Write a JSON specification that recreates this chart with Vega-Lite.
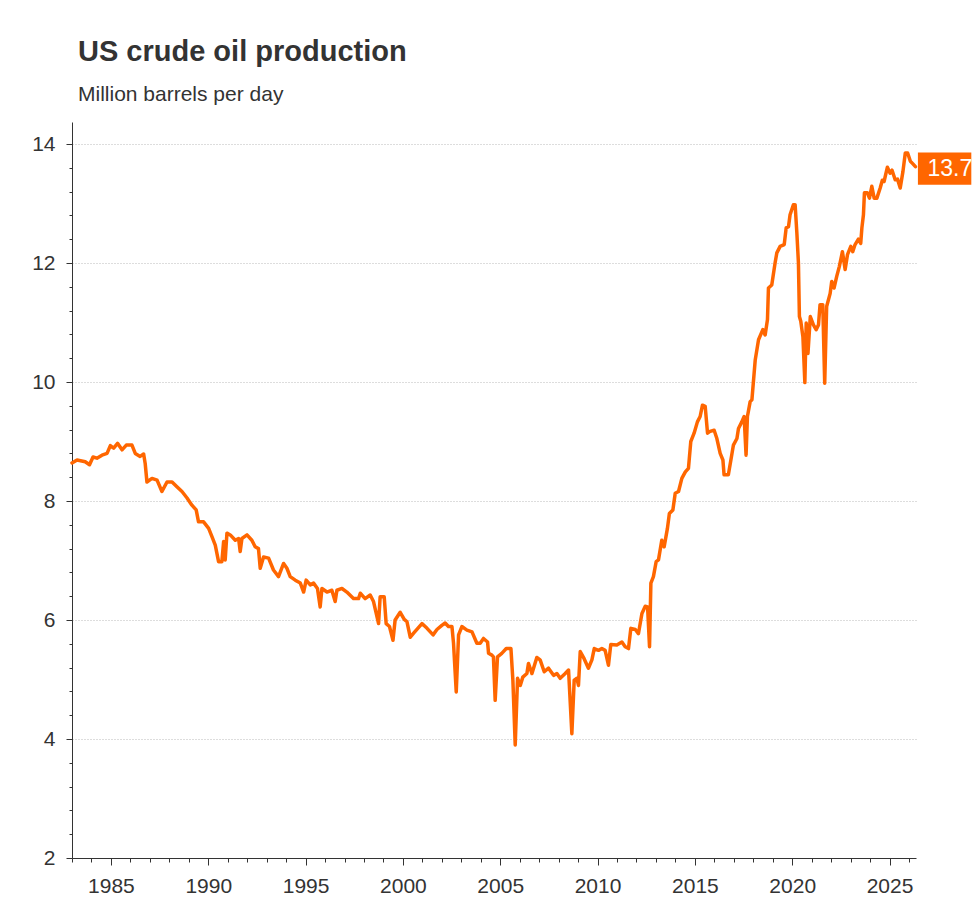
{
  "$schema": "https://vega.github.io/schema/vega-lite/v6.json",
  "width": 844,
  "height": 736,
  "autosize": "none",
  "padding": {"left": 72, "top": 122, "right": 62, "bottom": 50},
  "background": "white",
  "config": {"font": "Liberation Sans", "view": {"stroke": null}},
  "title": {
    "text": "US crude oil production",
    "subtitle": "Million barrels per day",
    "anchor": "start",
    "frame": "group",
    "dx": 6,
    "offset": 17,
    "font": "Liberation Sans",
    "fontSize": 29,
    "fontWeight": "bold",
    "color": "#333333",
    "subtitleFont": "Liberation Sans",
    "subtitleFontSize": 21,
    "subtitleColor": "#333333",
    "subtitlePadding": 17
  },
  "data": {"values": [
    {"year": 1983.00, "value": 8.64}, {"year": 1983.26, "value": 8.69}, {"year": 1983.68, "value": 8.66}, {"year": 1983.90, "value": 8.61},
    {"year": 1984.08, "value": 8.74}, {"year": 1984.28, "value": 8.72}, {"year": 1984.54, "value": 8.77}, {"year": 1984.80, "value": 8.80},
    {"year": 1984.97, "value": 8.93}, {"year": 1985.14, "value": 8.89}, {"year": 1985.34, "value": 8.97}, {"year": 1985.57, "value": 8.86},
    {"year": 1985.79, "value": 8.94}, {"year": 1986.08, "value": 8.94}, {"year": 1986.25, "value": 8.80}, {"year": 1986.50, "value": 8.75},
    {"year": 1986.68, "value": 8.79}, {"year": 1986.76, "value": 8.63}, {"year": 1986.85, "value": 8.32}, {"year": 1987.11, "value": 8.38},
    {"year": 1987.37, "value": 8.35}, {"year": 1987.62, "value": 8.16}, {"year": 1987.88, "value": 8.32}, {"year": 1988.14, "value": 8.32},
    {"year": 1988.39, "value": 8.24}, {"year": 1988.65, "value": 8.16}, {"year": 1988.91, "value": 8.05}, {"year": 1989.16, "value": 7.93},
    {"year": 1989.38, "value": 7.85}, {"year": 1989.50, "value": 7.65}, {"year": 1989.76, "value": 7.65}, {"year": 1990.02, "value": 7.54},
    {"year": 1990.19, "value": 7.40}, {"year": 1990.36, "value": 7.26}, {"year": 1990.53, "value": 6.98}, {"year": 1990.70, "value": 6.98},
    {"year": 1990.79, "value": 7.32}, {"year": 1990.87, "value": 7.01}, {"year": 1990.96, "value": 7.46}, {"year": 1991.13, "value": 7.43},
    {"year": 1991.39, "value": 7.34}, {"year": 1991.56, "value": 7.37}, {"year": 1991.64, "value": 7.15}, {"year": 1991.73, "value": 7.37},
    {"year": 1991.99, "value": 7.43}, {"year": 1992.24, "value": 7.34}, {"year": 1992.41, "value": 7.23}, {"year": 1992.58, "value": 7.20},
    {"year": 1992.67, "value": 6.87}, {"year": 1992.84, "value": 7.06}, {"year": 1993.10, "value": 7.04}, {"year": 1993.35, "value": 6.84},
    {"year": 1993.61, "value": 6.73}, {"year": 1993.87, "value": 6.95}, {"year": 1994.04, "value": 6.87}, {"year": 1994.21, "value": 6.73},
    {"year": 1994.47, "value": 6.67}, {"year": 1994.73, "value": 6.62}, {"year": 1994.90, "value": 6.47}, {"year": 1995.03, "value": 6.67},
    {"year": 1995.24, "value": 6.59}, {"year": 1995.41, "value": 6.62}, {"year": 1995.61, "value": 6.53}, {"year": 1995.75, "value": 6.22},
    {"year": 1995.84, "value": 6.53}, {"year": 1996.10, "value": 6.47}, {"year": 1996.35, "value": 6.50}, {"year": 1996.52, "value": 6.31},
    {"year": 1996.61, "value": 6.50}, {"year": 1996.87, "value": 6.53}, {"year": 1997.12, "value": 6.47}, {"year": 1997.46, "value": 6.36},
    {"year": 1997.72, "value": 6.36}, {"year": 1997.81, "value": 6.45}, {"year": 1998.06, "value": 6.36}, {"year": 1998.32, "value": 6.42},
    {"year": 1998.49, "value": 6.31}, {"year": 1998.75, "value": 5.94}, {"year": 1998.83, "value": 6.39}, {"year": 1999.04, "value": 6.39},
    {"year": 1999.14, "value": 5.94}, {"year": 1999.31, "value": 5.89}, {"year": 1999.49, "value": 5.66}, {"year": 1999.60, "value": 6.00},
    {"year": 1999.86, "value": 6.13}, {"year": 2000.07, "value": 6.01}, {"year": 2000.21, "value": 5.97}, {"year": 2000.38, "value": 5.71},
    {"year": 2000.55, "value": 5.78}, {"year": 2000.98, "value": 5.94}, {"year": 2001.24, "value": 5.86}, {"year": 2001.55, "value": 5.75},
    {"year": 2001.75, "value": 5.84}, {"year": 2002.00, "value": 5.91}, {"year": 2002.17, "value": 5.95}, {"year": 2002.34, "value": 5.89},
    {"year": 2002.52, "value": 5.89}, {"year": 2002.60, "value": 5.61}, {"year": 2002.74, "value": 4.79}, {"year": 2002.86, "value": 5.75},
    {"year": 2003.03, "value": 5.89}, {"year": 2003.29, "value": 5.83}, {"year": 2003.55, "value": 5.80}, {"year": 2003.80, "value": 5.61},
    {"year": 2003.97, "value": 5.61}, {"year": 2004.14, "value": 5.69}, {"year": 2004.35, "value": 5.63}, {"year": 2004.40, "value": 5.44},
    {"year": 2004.57, "value": 5.41}, {"year": 2004.65, "value": 5.38}, {"year": 2004.74, "value": 4.65}, {"year": 2004.86, "value": 5.38},
    {"year": 2005.08, "value": 5.44}, {"year": 2005.31, "value": 5.52}, {"year": 2005.55, "value": 5.52}, {"year": 2005.65, "value": 4.99},
    {"year": 2005.77, "value": 3.90}, {"year": 2005.89, "value": 5.02}, {"year": 2006.03, "value": 4.90}, {"year": 2006.16, "value": 5.04},
    {"year": 2006.37, "value": 5.10}, {"year": 2006.45, "value": 5.27}, {"year": 2006.63, "value": 5.10}, {"year": 2006.88, "value": 5.37},
    {"year": 2007.05, "value": 5.33}, {"year": 2007.26, "value": 5.13}, {"year": 2007.48, "value": 5.19}, {"year": 2007.74, "value": 5.07},
    {"year": 2007.91, "value": 5.10}, {"year": 2008.08, "value": 5.02}, {"year": 2008.34, "value": 5.10}, {"year": 2008.51, "value": 5.16},
    {"year": 2008.68, "value": 4.09}, {"year": 2008.80, "value": 4.99}, {"year": 2008.94, "value": 5.02}, {"year": 2009.02, "value": 4.90},
    {"year": 2009.11, "value": 5.47}, {"year": 2009.31, "value": 5.35}, {"year": 2009.53, "value": 5.19}, {"year": 2009.71, "value": 5.33},
    {"year": 2009.83, "value": 5.52}, {"year": 2010.05, "value": 5.49}, {"year": 2010.22, "value": 5.52}, {"year": 2010.39, "value": 5.49},
    {"year": 2010.56, "value": 5.24}, {"year": 2010.68, "value": 5.59}, {"year": 2010.99, "value": 5.58}, {"year": 2011.25, "value": 5.63},
    {"year": 2011.42, "value": 5.55}, {"year": 2011.59, "value": 5.52}, {"year": 2011.71, "value": 5.86}, {"year": 2011.94, "value": 5.84},
    {"year": 2012.10, "value": 5.77}, {"year": 2012.28, "value": 6.11}, {"year": 2012.45, "value": 6.23}, {"year": 2012.57, "value": 6.22},
    {"year": 2012.67, "value": 5.55}, {"year": 2012.74, "value": 6.62}, {"year": 2012.87, "value": 6.73}, {"year": 2013.01, "value": 6.98},
    {"year": 2013.13, "value": 7.01}, {"year": 2013.30, "value": 7.34}, {"year": 2013.42, "value": 7.23}, {"year": 2013.59, "value": 7.54},
    {"year": 2013.69, "value": 7.79}, {"year": 2013.87, "value": 7.85}, {"year": 2013.99, "value": 8.13}, {"year": 2014.16, "value": 8.16},
    {"year": 2014.33, "value": 8.38}, {"year": 2014.51, "value": 8.49}, {"year": 2014.67, "value": 8.55}, {"year": 2014.79, "value": 9.00},
    {"year": 2014.96, "value": 9.14}, {"year": 2015.13, "value": 9.33}, {"year": 2015.27, "value": 9.42}, {"year": 2015.39, "value": 9.61},
    {"year": 2015.53, "value": 9.59}, {"year": 2015.65, "value": 9.14}, {"year": 2015.78, "value": 9.17}, {"year": 2015.99, "value": 9.19},
    {"year": 2016.13, "value": 9.05}, {"year": 2016.30, "value": 8.80}, {"year": 2016.44, "value": 8.69}, {"year": 2016.50, "value": 8.44},
    {"year": 2016.72, "value": 8.44}, {"year": 2016.85, "value": 8.69}, {"year": 2016.98, "value": 8.94}, {"year": 2017.16, "value": 9.05},
    {"year": 2017.24, "value": 9.22}, {"year": 2017.41, "value": 9.33}, {"year": 2017.53, "value": 9.42}, {"year": 2017.63, "value": 8.77},
    {"year": 2017.70, "value": 9.42}, {"year": 2017.84, "value": 9.67}, {"year": 2017.93, "value": 9.70}, {"year": 2018.10, "value": 10.37},
    {"year": 2018.27, "value": 10.71}, {"year": 2018.49, "value": 10.88}, {"year": 2018.61, "value": 10.79}, {"year": 2018.73, "value": 11.05},
    {"year": 2018.78, "value": 11.58}, {"year": 2018.95, "value": 11.63}, {"year": 2019.12, "value": 12.00}, {"year": 2019.21, "value": 12.17},
    {"year": 2019.38, "value": 12.28}, {"year": 2019.59, "value": 12.31}, {"year": 2019.69, "value": 12.59}, {"year": 2019.81, "value": 12.61},
    {"year": 2019.89, "value": 12.81}, {"year": 2020.06, "value": 12.98}, {"year": 2020.15, "value": 12.98}, {"year": 2020.24, "value": 12.50},
    {"year": 2020.32, "value": 12.00}, {"year": 2020.37, "value": 11.10}, {"year": 2020.44, "value": 11.02}, {"year": 2020.55, "value": 10.76},
    {"year": 2020.65, "value": 9.99}, {"year": 2020.72, "value": 10.99}, {"year": 2020.81, "value": 10.48}, {"year": 2020.93, "value": 11.10},
    {"year": 2021.09, "value": 10.96}, {"year": 2021.23, "value": 10.88}, {"year": 2021.35, "value": 10.96}, {"year": 2021.43, "value": 11.30},
    {"year": 2021.57, "value": 11.30}, {"year": 2021.67, "value": 9.98}, {"year": 2021.77, "value": 11.27}, {"year": 2021.95, "value": 11.49},
    {"year": 2022.03, "value": 11.69}, {"year": 2022.15, "value": 11.58}, {"year": 2022.29, "value": 11.78}, {"year": 2022.42, "value": 11.94},
    {"year": 2022.58, "value": 12.19}, {"year": 2022.72, "value": 11.89}, {"year": 2022.84, "value": 12.14}, {"year": 2023.01, "value": 12.28},
    {"year": 2023.11, "value": 12.19}, {"year": 2023.23, "value": 12.31}, {"year": 2023.40, "value": 12.40}, {"year": 2023.52, "value": 12.33},
    {"year": 2023.58, "value": 12.59}, {"year": 2023.66, "value": 12.81}, {"year": 2023.71, "value": 13.18}, {"year": 2023.86, "value": 13.18},
    {"year": 2023.97, "value": 13.09}, {"year": 2024.09, "value": 13.29}, {"year": 2024.21, "value": 13.09}, {"year": 2024.35, "value": 13.09},
    {"year": 2024.52, "value": 13.26}, {"year": 2024.63, "value": 13.39}, {"year": 2024.72, "value": 13.37}, {"year": 2024.89, "value": 13.61},
    {"year": 2025.03, "value": 13.51}, {"year": 2025.13, "value": 13.56}, {"year": 2025.29, "value": 13.40}, {"year": 2025.41, "value": 13.41},
    {"year": 2025.55, "value": 13.26}, {"year": 2025.69, "value": 13.54}, {"year": 2025.81, "value": 13.85}, {"year": 2025.93, "value": 13.85},
    {"year": 2026.07, "value": 13.71}, {"year": 2026.19, "value": 13.67}, {"year": 2026.33, "value": 13.62}
  ]},
  "encoding": {
    "x": {
      "field": "year",
      "type": "quantitative",
      "title": null,
      "scale": {"domain": [1983, 2026.36], "nice": false, "zero": false},
      "axis": {
        "values": [1983, 1984, 1985, 1986, 1987, 1988, 1989, 1990, 1991, 1992, 1993, 1994, 1995, 1996, 1997, 1998, 1999, 2000, 2001, 2002, 2003, 2004, 2005, 2006, 2007, 2008, 2009, 2010, 2011, 2012, 2013, 2014, 2015, 2016, 2017, 2018, 2019, 2020, 2021, 2022, 2023, 2024, 2025, 2026],
        "format": "d",
        "labelExpr": "datum.value % 5 === 0 ? datum.label : ''",
        "grid": false,
        "domainColor": "#333333",
        "domainWidth": 1,
        "tickColor": "#333333",
        "tickWidth": 1,
        "tickSize": {"condition": {"test": "datum.value % 5 === 0", "value": 7}, "value": 4},
        "labelFontSize": 21,
        "labelColor": "#333333",
        "labelPadding": 10,
        "labelFlush": false,
        "labelOverlap": false
      }
    },
    "y": {
      "field": "value",
      "type": "quantitative",
      "title": null,
      "scale": {"domain": [2, 14.37], "nice": false, "zero": false},
      "axis": {
        "values": [2, 2.4, 2.8, 3.2, 3.6, 4, 4.4, 4.8, 5.2, 5.6, 6, 6.4, 6.8, 7.2, 7.6, 8, 8.4, 8.8, 9.2, 9.6, 10, 10.4, 10.8, 11.2, 11.6, 12, 12.4, 12.8, 13.2, 13.6, 14],
        "labelExpr": "abs(datum.value / 2 - round(datum.value / 2)) < 0.01 ? format(datum.value, 'd') : ''",
        "grid": true,
        "gridColor": "#bbbbbb",
        "gridDash": [1, 2],
        "gridWidth": 1,
        "gridOpacity": {"condition": {"test": "abs(datum.value / 2 - round(datum.value / 2)) < 0.01 && datum.value > 2.5", "value": 1}, "value": 0},
        "domainColor": "#333333",
        "domainWidth": 1,
        "tickColor": "#333333",
        "tickWidth": 1,
        "tickSize": {"condition": {"test": "abs(datum.value / 2 - round(datum.value / 2)) < 0.01", "value": 6}, "value": 3},
        "labelFontSize": 21,
        "labelColor": "#333333",
        "labelPadding": 11,
        "labelFlush": false,
        "labelOverlap": false
      }
    }
  },
  "layer": [
    {
      "mark": {"type": "line", "color": "#ff6600", "strokeWidth": 3.5, "strokeJoin": "round", "strokeCap": "round"}
    },
    {
      "transform": [{"filter": "datum.year > 2026.3"}],
      "mark": {"type": "point", "shape": "M0,-0.3034H1V0.3034H0Z", "size": 11406, "filled": true, "color": "#ff6600", "opacity": 1, "strokeWidth": 0, "xOffset": 2.5, "yOffset": 2}
    },
    {
      "transform": [{"filter": "datum.year > 2026.3"}],
      "mark": {"type": "text", "align": "left", "baseline": "middle", "dx": 12, "dy": 2, "color": "white", "fontSize": 23},
      "encoding": {"text": {"value": "13.7"}}
    }
  ]
}
